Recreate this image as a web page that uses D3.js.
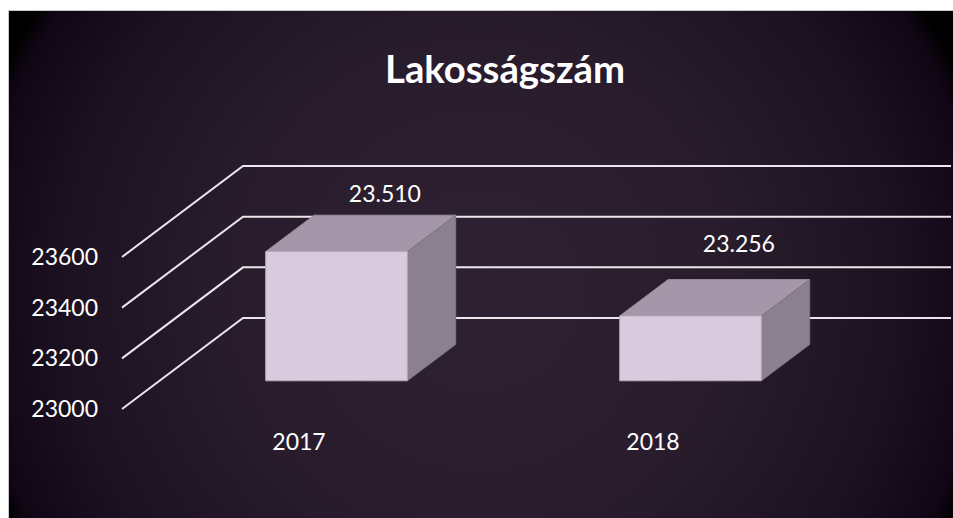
<!DOCTYPE html>
<html>
<head>
<meta charset="utf-8">
<script src="https://cdn.jsdelivr.net/npm/d3@7"></script>
<style>
  body { margin: 0; background: #fff; }
  svg { display: block; }
  text { font-family: Lato, "Open Sans", sans-serif; fill: #fff; }
</style>
</head>
<body>
<div id="chart"></div>
<script>
// data
const years = ["2017", "2018"];
const population = [23510, 23256];
const valueLabels = ["23.510", "23.256"];
const yTicks = [23000, 23200, 23400, 23600];

const width = 953, height = 518;

// front plane and depth of the 3d box
const front = {left: 122, right: 830, bottom: 409, top: 257};
const depth = {dx: 121, dy: -91};
const barDepth = [0.31, 0.71];

const svg = d3.select("#chart")
  .append("svg")
  .attr("width", width)
  .attr("height", height);

// background
const defs = svg.append("defs");
const grad = defs.append("radialGradient")
  .attr("id", "bg")
  .attr("gradientUnits", "userSpaceOnUse")
  .attr("cx", 480).attr("cy", 290).attr("r", 525);
[[0, "#2e2133"], [0.5, "#281c2c"], [0.8, "#1c1121"], [0.96, "#110615"], [1, "#000"]]
  .forEach(s => grad.append("stop").attr("offset", s[0]).attr("stop-color", s[1]));

svg.append("rect")
  .attr("x", 8.5).attr("y", 10.5)
  .attr("width", width).attr("height", height)
  .attr("fill", "url(#bg)")
  .attr("stroke", "#c8c8c8");

// scales
const y = d3.scaleLinear()
  .domain([23000, 23600])
  .range([front.bottom, front.top]);

const x = d3.scaleBand()
  .domain(years)
  .range([front.left, front.right])
  .paddingInner(0.6)
  .paddingOuter(0.3);

const proj = (px, v, z) => [px + z * depth.dx, y(v) + z * depth.dy];

// gridlines: floor diagonal + back wall
svg.append("g")
  .selectAll("path")
  .data(yTicks)
  .join("path")
    .attr("fill", "none")
    .attr("stroke", "#ebe7ec")
    .attr("stroke-width", 2)
    .attr("d", v => {
      const a = proj(front.left, v, 0), b = proj(front.left, v, 1), c = proj(front.right, v, 1);
      return d3.line()([a, b, c]);
    });

// y axis labels
svg.append("g")
  .attr("transform", `translate(${front.left},0)`)
  .call(d3.axisLeft(y).tickValues(yTicks).tickSize(0).tickPadding(24).tickFormat(d3.format("d")))
  .call(g => g.select(".domain").remove())
  .selectAll("text")
    .attr("fill", "#fff")
    .style("font-family", "Lato, sans-serif")
    .style("font-size", "23px");

// x axis labels
svg.append("g")
  .attr("transform", `translate(0,${front.bottom})`)
  .call(d3.axisBottom(x).tickSize(0).tickPadding(25))
  .call(g => g.select(".domain").remove())
  .selectAll("text")
    .attr("fill", "#fff")
    .style("font-family", "Lato, sans-serif")
    .style("font-size", "23px");

// bars
const rows = years.map((yr, i) => ({year: yr, value: population[i], label: valueLabels[i]}));
const [z0, z1] = barDepth;
const bars = svg.append("g").selectAll("g").data(rows).join("g");

bars.append("path")   // top
  .attr("fill", "#a597a9")
  .attr("stroke", "#968a98")
  .attr("d", d => {
    const x0 = x(d.year), x1 = x0 + x.bandwidth();
    return d3.line()([proj(x0, d.value, z0), proj(x1, d.value, z0), proj(x1, d.value, z1), proj(x0, d.value, z1)]) + "Z";
  });

bars.append("path")   // right side
  .attr("fill", "#8b808e")
  .attr("stroke", "#7f7482")
  .attr("d", d => {
    const x1 = x(d.year) + x.bandwidth();
    return d3.line()([proj(x1, d.value, z0), proj(x1, d.value, z1), proj(x1, 23000, z1), proj(x1, 23000, z0)]) + "Z";
  });

bars.append("path")   // front
  .attr("fill", "#d9cade")
  .attr("stroke", "#b9abbd")
  .attr("d", d => {
    const x0 = x(d.year), x1 = x0 + x.bandwidth();
    return d3.line()([proj(x0, d.value, z0), proj(x1, d.value, z0), proj(x1, 23000, z0), proj(x0, 23000, z0)]) + "Z";
  });

// value labels above the back edge of the top
bars.append("text")
  .attr("text-anchor", "middle")
  .attr("dominant-baseline", "central")
  .style("font-size", "23px")
  .attr("x", d => proj(x(d.year) + x.bandwidth() / 2, d.value, z1)[0])
  .attr("y", d => 24 + 0.785 * proj(0, d.value, z1)[1])
  .text(d => d.label);

// title
svg.append("text")
  .attr("x", 505)
  .attr("y", 83)
  .attr("text-anchor", "middle")
  .attr("textLength", 240)
  .attr("lengthAdjust", "spacingAndGlyphs")
  .style("font-size", "38px")
  .style("font-weight", "bold")
  .text("Lakosságszám");
</script>
</body>
</html>
